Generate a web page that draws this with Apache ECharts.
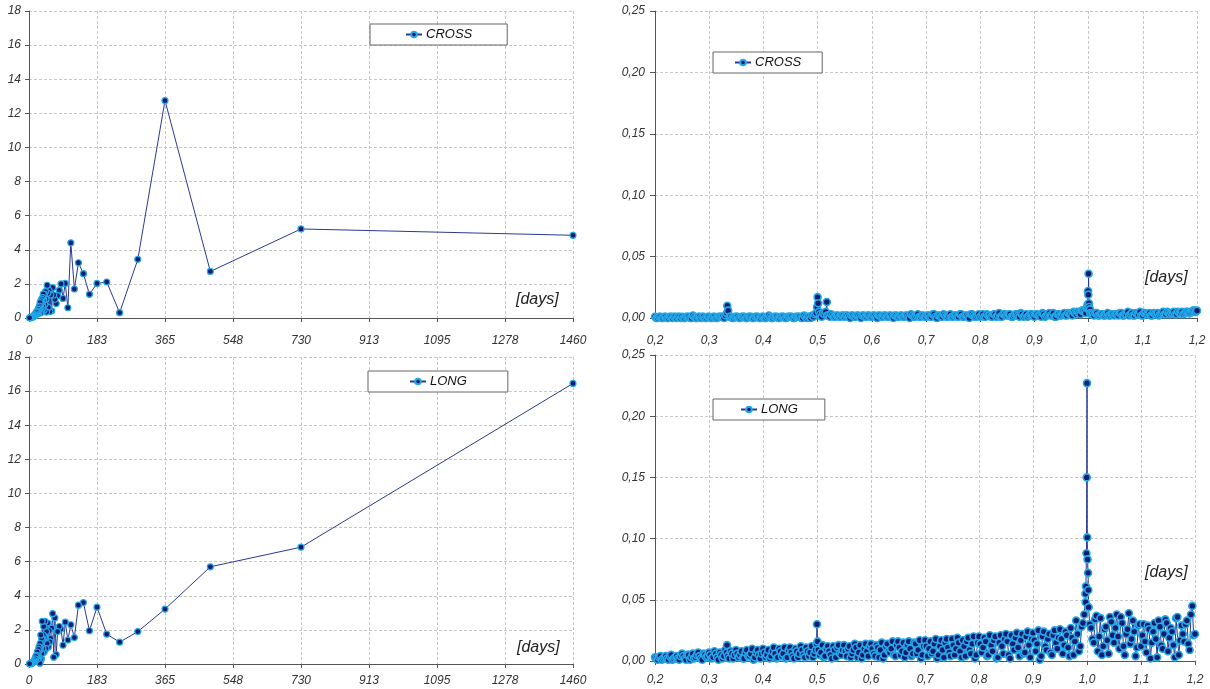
<!DOCTYPE html>
<html>
<head>
<meta charset="utf-8">
<script src="https://cdn.jsdelivr.net/npm/echarts@6/dist/echarts.min.js"></script>
<style>
html,body{margin:0;padding:0;background:#fff;}
#c{width:1210px;height:689px;}
</style>
</head>
<body>
<div id="c"></div>
<script>
// ---- Left panels: period (days) vs amplitude ----
var periodDays = [1460,730,486.7,365,292,243.3,208.6,182.5,162.2,146,
  132.7,121.7,112.3,104.3,97.3,91.3,85.9,81.1,76.8,73,
  69.5,66.4,63.5,60.8,58.4,56.2,54.1,52.1,50.3,48.7,
  47.1,45.6,44.2,42.9,41.7,40.6,39.5,38.4,37.4,36.5,
  35.6,34.8,34,33.2,32.4,31.7,31.1,30.4,29.8,29.2,
  28.1,27,26.1,25.2,24.3,23.2,22.1,20.9,19.5,18.3,
  17.2,16.2,14.6,13.3,12.2,10.8,9.7,8.6,7.3,6.1,
  4.9,3.7,2.4,1.5];
var crossLeft = [4.85,5.22,2.73,12.75,3.44,0.31,2.11,2.03,1.39,2.6,
  3.24,1.7,4.41,0.6,2.03,1.15,2.0,1.62,1.31,0.85,
  1.1,1.35,1.78,0.42,1.35,0.38,1.62,0.62,1.45,1.92,
  0.35,1.1,1.55,0.8,1.38,0.45,1.05,1.4,0.7,1.2,
  0.5,0.95,1.1,0.4,0.85,1.0,0.3,0.75,0.9,0.55,
  0.7,0.35,0.6,0.45,0.5,0.25,0.4,0.3,0.35,0.2,
  0.25,0.15,0.18,0.1,0.12,0.08,0.06,0.05,0.04,0.03,
  0.02,0.02,0.01,0.01];
var longLeft = [16.45,6.85,5.7,3.22,1.9,1.28,1.75,3.33,1.95,3.6,
  3.45,1.55,2.3,1.4,2.45,1.1,2.05,2.2,1.9,0.55,
  2.7,0.4,2.95,2.1,1.5,1.3,1.95,1.0,2.4,1.2,
  1.9,0.9,1.55,2.5,1.6,0.7,2.2,1.7,0.9,1.4,
  2.5,0.6,1.5,0.3,1.1,1.7,0.2,0.9,1.2,0.05,
  0.8,1.0,0.4,0.85,0.6,0.3,0.7,0.5,0.35,0.45,
  0.2,0.3,0.15,0.2,0.1,0.12,0.08,0.06,0.05,0.04,
  0.03,0.02,0.02,0.01];

// ---- Right panels: period (days) 0.2 .. 1.2 ----
var periodShort = [
  .200,.205,.210,.215,.220,.225,.230,.235,.240,.245,
  .250,.255,.260,.265,.270,.275,.280,.285,.290,.295,
  .300,.305,.310,.315,.320,.325,.330,.3333,.335,.340,.345,
  .350,.355,.360,.365,.370,.375,.380,.385,.390,.395,
  .400,.405,.410,.415,.420,.425,.430,.435,.440,.445,
  .450,.455,.460,.465,.470,.475,.480,.485,.490,.495,
  .499,.500,.501,.505,.510,.515,.517,.520,.525,.530,.535,.540,.545,
  .550,.555,.560,.565,.570,.575,.580,.585,.590,.595,
  .600,.605,.610,.615,.620,.625,.630,.635,.640,.645,
  .650,.655,.660,.665,.670,.675,.680,.685,.690,.695,
  .700,.705,.710,.715,.720,.725,.730,.735,.740,.745,
  .750,.755,.760,.765,.770,.775,.780,.785,.790,.795,
  .800,.805,.810,.815,.820,.825,.830,.835,.840,.845,
  .850,.855,.860,.865,.870,.875,.880,.885,.890,.895,
  .900,.905,.910,.915,.920,.925,.930,.935,.940,.945,
  .950,.955,.960,.965,.970,.975,.980,.985,.990,.995,.997,.998,
  .999,.9995,1.000,1.0005,1.001,1.002,1.003,1.005,1.010,1.015,1.020,1.025,1.030,1.035,1.040,1.045,
  1.050,1.055,1.060,1.065,1.070,1.075,1.080,1.085,1.090,1.095,
  1.100,1.105,1.110,1.115,1.120,1.125,1.130,1.135,1.140,1.145,
  1.150,1.155,1.160,1.165,1.170,1.175,1.180,1.185,1.190,1.195,
  1.200];
var crossRight = [
  .001,.000,.001,.000,.001,.000,.001,.001,.000,.001,
  .001,.000,.001,.000,.002,.000,.001,.000,.001,.000,
  .001,.000,.001,.000,.001,.001,.002,.010,.006,.001,.000,
  .001,.000,.001,.001,.000,.001,.000,.001,.001,.000,
  .001,.000,.002,.000,.001,.001,.000,.001,.000,.001,
  .001,.000,.001,.001,.000,.002,.000,.001,.002,.003,
  .009,.017,.012,.003,.004,.005,.013,.002,.003,.001,.002,.001,.002,
  .001,.002,.000,.002,.001,.002,.000,.002,.001,.002,
  .001,.002,.000,.002,.001,.002,.001,.002,.000,.002,
  .001,.002,.001,.002,.000,.002,.001,.003,.001,.002,
  .001,.002,.001,.003,.000,.002,.001,.002,.001,.003,
  .001,.002,.001,.003,.001,.002,.000,.003,.001,.002,
  .001,.003,.001,.002,.001,.003,.001,.004,.001,.003,
  .002,.003,.001,.003,.002,.004,.001,.003,.002,.003,
  .001,.003,.002,.004,.001,.003,.002,.004,.001,.003,
  .002,.004,.002,.003,.002,.004,.005,.003,.006,.004,.008,.011,
  .022,.019,.036,.012,.009,.006,.004,.003,.002,.004,.002,.003,.002,.004,.002,.003,
  .003,.002,.004,.002,.003,.002,.004,.002,.003,.005,
  .002,.004,.003,.002,.004,.003,.002,.004,.003,.005,
  .003,.004,.003,.005,.004,.003,.005,.004,.005,.006,
  .006];
var longRight = [
  .003,.001,.004,.002,.004,.001,.005,.002,.004,.001,
  .006,.002,.005,.001,.006,.003,.007,.002,.006,.003,
  .007,.002,.008,.003,.007,.002,.009,.013,.004,.008,.002,
  .009,.003,.008,.002,.009,.004,.010,.003,.009,.002,
  .010,.003,.009,.004,.011,.002,.010,.004,.011,.003,
  .011,.004,.010,.003,.012,.005,.011,.004,.012,.006,
  .014,.030,.016,.005,.013,.004,.010,.012,.005,.012,.003,.013,.005,
  .013,.004,.012,.006,.014,.003,.013,.005,.014,.004,
  .014,.006,.013,.003,.015,.005,.014,.007,.016,.004,
  .016,.005,.015,.007,.016,.004,.015,.006,.017,.005,
  .017,.004,.016,.008,.018,.005,.017,.003,.018,.007,
  .018,.005,.019,.008,.017,.004,.019,.006,.020,.005,
  .020,.007,.019,.004,.021,.008,.020,.003,.021,.006,
  .022,.005,.021,.009,.023,.004,.022,.007,.024,.003,
  .023,.008,.025,.004,.024,.009,.022,.005,.025,.010,
  .026,.006,.024,.011,.027,.005,.033,.008,.028,.038,.055,.061,
  .088,.150,.227,.101,.083,.072,.044,.030,.018,.034,.008,.035,.012,.028,.006,.032,
  .015,.038,.010,.031,.005,.026,.014,.033,.004,.029,
  .012,.030,.007,.026,.015,.031,.003,.028,.010,.034,
  .008,.027,.013,.035,.005,.029,.016,.033,.009,.045,
  .022];
// interleaved periods between the ones above
var periodShortB = [
  .2025,.2075,.2125,.2175,.2225,.2275,.2325,.2375,.2425,.2475,
  .2525,.2575,.2625,.2675,.2725,.2775,.2825,.2875,.2925,.2975,
  .3025,.3075,.3125,.3175,.3225,.3275,.3325,.3375,.3425,.3475,
  .3525,.3575,.3625,.3675,.3725,.3775,.3825,.3875,.3925,.3975,
  .4025,.4075,.4125,.4175,.4225,.4275,.4325,.4375,.4425,.4475,
  .4525,.4575,.4625,.4675,.4725,.4775,.4825,.4875,.4925,.4975,
  .5025,.5075,.5125,.5175,.5225,.5275,.5325,.5375,.5425,.5475,
  .5525,.5575,.5625,.5675,.5725,.5775,.5825,.5875,.5925,.5975,
  .6025,.6075,.6125,.6175,.6225,.6275,.6325,.6375,.6425,.6475,
  .6525,.6575,.6625,.6675,.6725,.6775,.6825,.6875,.6925,.6975,
  .7025,.7075,.7125,.7175,.7225,.7275,.7325,.7375,.7425,.7475,
  .7525,.7575,.7625,.7675,.7725,.7775,.7825,.7875,.7925,.7975,
  .8025,.8075,.8125,.8175,.8225,.8275,.8325,.8375,.8425,.8475,
  .8525,.8575,.8625,.8675,.8725,.8775,.8825,.8875,.8925,.8975,
  .9025,.9075,.9125,.9175,.9225,.9275,.9325,.9375,.9425,.9475,
  .9525,.9575,.9625,.9675,.9725,.9775,.9825,.9875,.9925,.9975,
  1.0025,1.0075,1.0125,1.0175,1.0225,1.0275,1.0325,1.0375,1.0425,1.0475,
  1.0525,1.0575,1.0625,1.0675,1.0725,1.0775,1.0825,1.0875,1.0925,1.0975,
  1.1025,1.1075,1.1125,1.1175,1.1225,1.1275,1.1325,1.1375,1.1425,1.1475,
  1.1525,1.1575,1.1625,1.1675,1.1725,1.1775,1.1825,1.1875,1.1925,1.1975];
var crossRightB = [
  .000,.001,.000,.001,.000,.001,.000,.001,.001,.000,
  .000,.001,.001,.000,.001,.000,.001,.001,.000,.001,
  .000,.001,.000,.001,.001,.000,.004,.001,.000,.001,
  .001,.000,.001,.000,.001,.001,.000,.001,.000,.001,
  .000,.001,.001,.000,.001,.000,.001,.001,.000,.001,
  .001,.000,.001,.001,.000,.001,.001,.000,.001,.004,
  .005,.001,.003,.002,.001,.002,.001,.002,.001,.002,
  .002,.001,.002,.001,.002,.001,.002,.001,.002,.001,
  .002,.001,.002,.001,.002,.001,.002,.001,.002,.001,
  .002,.001,.002,.001,.003,.001,.002,.001,.002,.001,
  .002,.001,.003,.001,.002,.001,.003,.001,.002,.001,
  .002,.001,.003,.001,.002,.001,.003,.002,.001,.003,
  .002,.001,.003,.002,.001,.003,.002,.001,.003,.002,
  .003,.001,.002,.003,.001,.003,.002,.001,.003,.002,
  .003,.002,.001,.003,.002,.004,.002,.001,.003,.002,
  .003,.002,.004,.003,.005,.003,.004,.006,.005,.009,
  .007,.003,.004,.002,.003,.002,.003,.002,.003,.002,
  .003,.004,.002,.003,.005,.003,.002,.004,.003,.002,
  .004,.003,.004,.002,.003,.004,.003,.005,.003,.004,
  .004,.005,.003,.004,.005,.004,.005,.004,.006,.005];
var longRightB = [
  .002,.003,.001,.003,.002,.004,.001,.003,.002,.004,
  .004,.001,.005,.003,.002,.005,.004,.001,.005,.004,
  .005,.003,.006,.001,.005,.004,.007,.002,.006,.005,
  .006,.005,.002,.007,.004,.006,.001,.007,.005,.006,
  .007,.005,.002,.008,.006,.003,.008,.006,.002,.009,
  .007,.002,.008,.006,.009,.003,.008,.007,.003,.009,
  .009,.007,.003,.010,.008,.002,.009,.011,.006,.009,
  .008,.010,.003,.009,.011,.007,.002,.010,.008,.012,
  .010,.004,.011,.009,.002,.012,.008,.010,.005,.013,
  .011,.008,.003,.013,.010,.006,.014,.009,.002,.012,
  .012,.010,.006,.014,.002,.012,.009,.015,.011,.004,
  .013,.010,.015,.003,.012,.016,.009,.014,.002,.015,
  .014,.011,.016,.005,.013,.017,.002,.015,.012,.018,
  .016,.002,.014,.019,.011,.017,.006,.020,.013,.018,
  .017,.014,.001,.020,.012,.018,.007,.021,.015,.019,
  .018,.013,.021,.004,.019,.016,.022,.012,.031,.048,
  .058,.027,.015,.037,.020,.005,.026,.017,.036,.021,
  .027,.020,.036,.012,.022,.039,.018,.024,.011,.030,
  .021,.016,.029,.002,.024,.018,.033,.013,.022,.031,
  .019,.024,.003,.036,.017,.022,.030,.014,.038,.021];

var chart = echarts.init(document.getElementById('c'), null, {renderer:'canvas'});

var LINE = '#2b3990', FILL = '#141c6e', RIM = '#23a8e8';
var FONT = '"Liberation Sans", Arial, sans-serif';
function pairs(xs, ys){ return xs.map(function(x,i){ return [x, ys[i]]; }); }
function merged(xa, ya, xb, yb){
  return pairs(xa, ya).concat(pairs(xb, yb)).sort(function(a,b){ return a[0]-b[0]; });
}
function comma(d){ return function(v){ return v.toFixed(d).replace('.', ','); }; }

var grids = [
  {left:29, top:11, width:544, height:307},
  {left:655, top:11, width:542, height:307},
  {left:29, top:357, width:544, height:307},
  {left:655, top:355, width:540, height:306}
];
var axisLabel = {fontStyle:'italic', fontSize:12, color:'#333', fontFamily:FONT};
var split = {show:true, lineStyle:{color:'#c8c8c8', type:[3,2], width:1}};
var axLine = {show:true, lineStyle:{color:'#555', width:1}};

function xLeft(i, margin){
  return {gridIndex:i, type:'value', min:0, max:1460, interval:182.5,
    axisLine:axLine, axisTick:{show:true, length:4, lineStyle:{color:'#555'}},
    splitLine:split,
    axisLabel:Object.assign({}, axisLabel, {margin:margin, formatter:function(v){ return String(Math.round(v)); }})};
}
function xRight(i, margin){
  return {gridIndex:i, type:'value', min:0.2, max:1.2, interval:0.1,
    axisLine:axLine, axisTick:{show:true, length:4, lineStyle:{color:'#555'}},
    splitLine:split,
    axisLabel:Object.assign({}, axisLabel, {margin:margin, formatter:comma(1)})};
}
function yLeft(i){
  return {gridIndex:i, type:'value', min:0, max:18, interval:2,
    axisLine:axLine, axisTick:{show:true, length:4, lineStyle:{color:'#555'}},
    splitLine:split,
    axisLabel:Object.assign({}, axisLabel, {margin:8})};
}
function yRight(i){
  return {gridIndex:i, type:'value', min:0, max:0.25, interval:0.05,
    axisLine:axLine, axisTick:{show:true, length:5, lineStyle:{color:'#555'}},
    splitLine:split,
    axisLabel:Object.assign({}, axisLabel, {margin:10, formatter:comma(2)})};
}
function ser(name, i, data, size, bw){
  return {name:name, type:'line', xAxisIndex:i, yAxisIndex:i,
    data:data, symbol:'circle', symbolSize:size, showAllSymbol:true,
    lineStyle:{color:LINE, width:1},
    itemStyle:{color:FILL, borderColor:RIM, borderWidth:bw},
    emphasis:{disabled:true}, animation:false};
}
function legend(name, left, top, padH){
  return {data:[name], left:left, top:top, orient:'horizontal',
    padding:[4, padH, 4, padH], itemWidth:16, itemHeight:7, itemGap:0,
    borderColor:'#666', borderWidth:1, backgroundColor:'#fff',
    selectedMode:false,
    textStyle:{fontStyle:'italic', fontSize:13, color:'#111', fontFamily:FONT, padding:[0,0,0,-1]}};
}
function daysText(x, y){
  return {type:'text', left:x, top:y, style:{text:'[days]', font:'italic 16px ' + FONT, fill:'#222'}};
}

chart.setOption({
  animation:false,
  backgroundColor:'#fff',
  grid:grids,
  xAxis:[xLeft(0,17), xRight(1,17), xLeft(2,11), xRight(3,13)],
  yAxis:[yLeft(0), yRight(1), yLeft(2), yRight(3)],
  legend:[
    legend('CROSS', 370, 24, 35),
    legend('CROSS', 713, 52, 21),
    legend('LONG', 368, 371, 41),
    legend('LONG', 713, 399, 27)
  ],
  series:[
    ser('CROSS', 0, pairs(periodDays, crossLeft), 6, 1.2),
    ser('CROSS', 1, merged(periodShort, crossRight, periodShortB, crossRightB), 7, 1.6),
    ser('LONG', 2, pairs(periodDays, longLeft), 6, 1.2),
    ser('LONG', 3, merged(periodShort, longRight, periodShortB, longRightB), 7, 1.6)
  ],
  graphic:[
    daysText(516, 292),
    daysText(1145, 270),
    daysText(517, 640),
    daysText(1145, 565)
  ]
});
</script>
</body>
</html>
